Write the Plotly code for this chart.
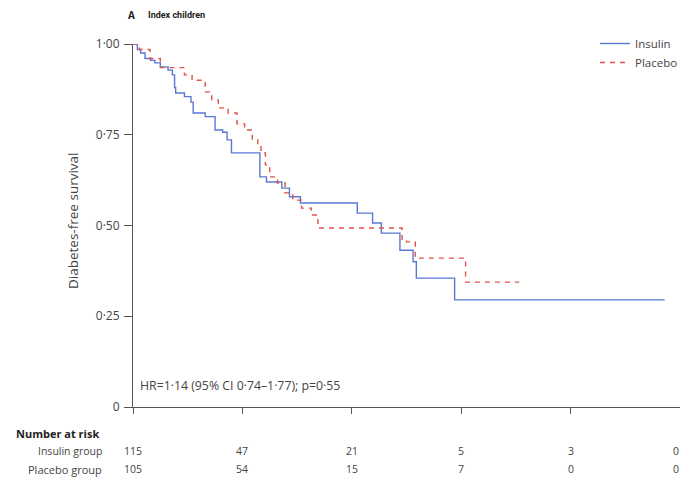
import plotly.graph_objects as go

# Kaplan-Meier step data (time in years, survival after each step)
insulin_t = [0, 0.04, 0.07, 0.11, 0.16, 0.20, 0.25, 0.32, 0.36, 0.38, 0.39, 0.47, 0.53, 0.55, 0.66,
             0.75, 0.82, 0.86, 0.90, 1.16, 1.22, 1.36, 1.43, 1.53, 2.05, 2.19, 2.27, 2.44, 2.56,
             2.59, 2.94, 4.86]
insulin_s = [1.0, 0.985, 0.975, 0.96, 0.955, 0.948, 0.937, 0.928, 0.915, 0.88, 0.865, 0.855, 0.84,
             0.81, 0.80, 0.763, 0.757, 0.736, 0.70, 0.634, 0.62, 0.603, 0.579, 0.562, 0.534, 0.507,
             0.479, 0.432, 0.40, 0.355, 0.295, 0.295]

placebo_t = [0, 0.06, 0.155, 0.25, 0.47, 0.54, 0.66, 0.72, 0.78, 0.87, 0.95, 1.02, 1.09, 1.14, 1.17,
             1.21, 1.25, 1.32, 1.39, 1.46, 1.54, 1.63, 1.69, 2.46, 2.50, 2.58, 3.04, 3.53]
placebo_s = [1.0, 0.985, 0.96, 0.935, 0.915, 0.90, 0.868, 0.846, 0.824, 0.81, 0.78, 0.763, 0.736,
             0.72, 0.70, 0.667, 0.634, 0.617, 0.59, 0.57, 0.548, 0.529, 0.493, 0.46, 0.455, 0.41,
             0.344, 0.344]

risk_times = [0, 1, 2, 3, 4, 5]
risk_insulin = ["115", "47", "21", "5", "3", "0"]
risk_placebo = ["105", "54", "15", "7", "0", "0"]

y_tickvals = [0, 0.25, 0.5, 0.75, 1.0]
y_ticktext = ["0", "0·25", "0·50", "0·75", "1·00"]

FONT = "Open Sans, Roboto, sans-serif"
TXT = "#444444"
BLUE = "#5a78d2"
RED = "#e0534a"
FS = 10.5

fig = go.Figure()
fig.add_trace(go.Scatter(x=insulin_t, y=insulin_s, mode="lines", line_shape="hv",
                         line=dict(color=BLUE, width=1.4), name="Insulin", cliponaxis=False))
fig.add_trace(go.Scatter(x=placebo_t, y=placebo_s, mode="lines", line_shape="hv",
                         line=dict(color=RED, width=1.4, dash="5px,5px"), name="Placebo",
                         cliponaxis=False))

L, T, W, H = 133, 44, 547, 363
def px(xp):
    return (xp - L) / W
def py(yp):
    return (T + H - yp) / H

ann = []
ann.append(dict(text="<b>A</b>", xref="paper", yref="paper",
                x=px(126), y=py(15), xanchor="left", yanchor="middle", showarrow=False,
                font=dict(size=10, color="#222")))
ann.append(dict(text="<b>Index children</b>", xref="paper", yref="paper",
                x=px(146), y=py(15), xanchor="left", yanchor="middle", showarrow=False,
                font=dict(family="Roboto", size=9, color="#222")))
ann.append(dict(text="Diabetes-free survival", xref="paper", yref="paper", x=px(73), y=py(221),
                textangle=-90, xanchor="center", yanchor="middle", showarrow=False,
                font=dict(size=13.5, color=TXT)))
ann.append(dict(text="HR=1·14 (95% CI 0·74–1·77); p=0·55", xref="paper", yref="paper",
                x=px(138), y=py(385), xanchor="left", yanchor="middle", showarrow=False,
                font=dict(size=12.3, color=TXT)))
ann.append(dict(text="<b>Number at risk</b>", xref="paper", yref="paper", x=px(14), y=py(433),
                xanchor="left", yanchor="middle", showarrow=False, font=dict(size=11, color="#222")))
ann.append(dict(text="Insulin group", xref="paper", yref="paper", x=px(104), y=py(451),
                xanchor="right", yanchor="middle", showarrow=False, font=dict(size=FS, color=TXT)))
ann.append(dict(text="Placebo group", xref="paper", yref="paper", x=px(104), y=py(469),
                xanchor="right", yanchor="middle", showarrow=False, font=dict(size=11, color=TXT)))
for i, (t, a, b) in enumerate(zip(risk_times, risk_insulin, risk_placebo)):
    anchor = "right" if i == len(risk_times) - 1 else "center"
    shift = 1 if anchor == "right" else 0
    ann.append(dict(text=a, xref="x", yref="paper", x=t, y=py(451), xanchor=anchor, xshift=shift,
                    yanchor="middle", showarrow=False, font=dict(size=FS, color=TXT)))
    ann.append(dict(text=b, xref="x", yref="paper", x=t, y=py(469), xanchor=anchor, xshift=shift,
                    yanchor="middle", showarrow=False, font=dict(size=FS, color=TXT)))

fig.update_layout(
    width=680, height=479,
    margin=dict(l=L, r=680 - L - W, t=T, b=479 - T - H, autoexpand=False),
    paper_bgcolor="white", plot_bgcolor="white",
    font=dict(family=FONT, size=FS, color=TXT),
    showlegend=True,
    legend=dict(x=px(595), y=py(29), xanchor="left", yanchor="top", bgcolor="rgba(0,0,0,0)",
                font=dict(size=11.5, color=TXT), tracegroupgap=0, itemwidth=30),
    annotations=ann,
    xaxis=dict(range=[0, 5], tickvals=risk_times, showticklabels=False, ticks="outside",
               ticklen=6, tickcolor="#555", showline=True, linecolor="#555", linewidth=1,
               showgrid=False, zeroline=False, fixedrange=True),
    yaxis=dict(range=[0, 1.0], tickvals=y_tickvals, ticktext=y_ticktext, ticks="outside",
               ticklen=8, tickcolor="#555", showline=True, linecolor="#555", linewidth=1,
               showgrid=False, zeroline=False, tickfont=dict(size=12, color=TXT),
               ticklabelstandoff=2),
)

fig.write_html("out.html")
